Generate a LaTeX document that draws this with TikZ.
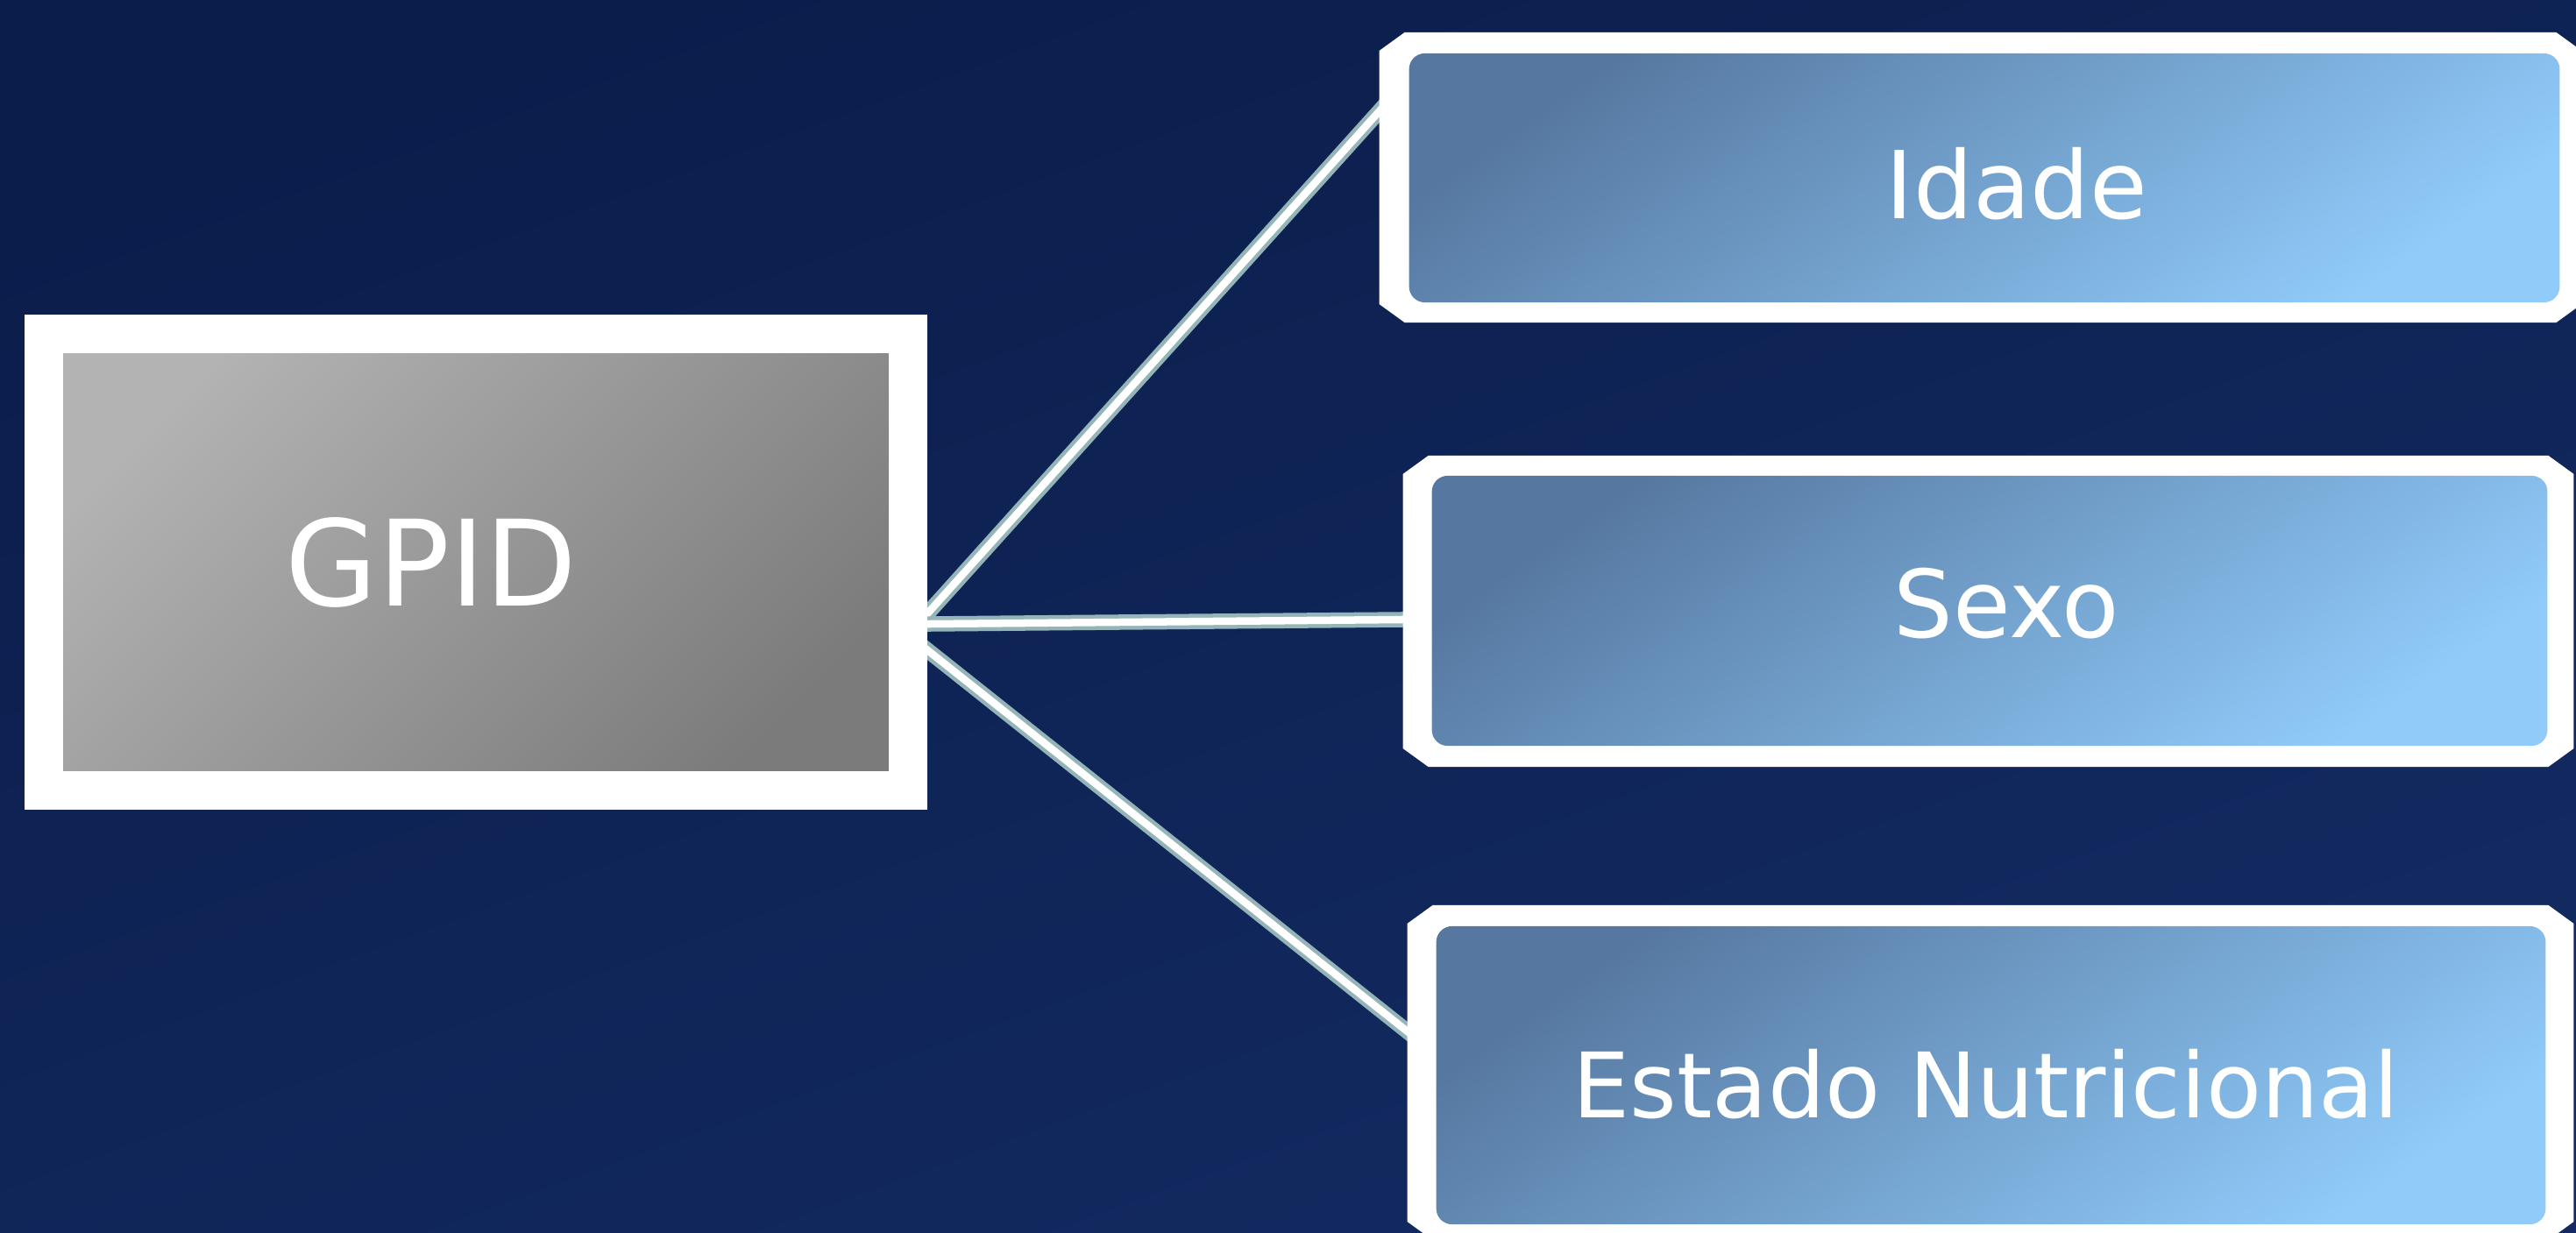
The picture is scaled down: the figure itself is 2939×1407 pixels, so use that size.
\documentclass[tikz,border=0pt]{standalone}
\usepackage{fontspec}
\setmainfont{DejaVu Sans}
\pgfdeclarelayer{bg}
\pgfdeclarelayer{links}
\pgfsetlayers{bg,links,main}
\definecolor{bgtop}{HTML}{0B1D4B}
\definecolor{bgbot}{HTML}{132B62}
\definecolor{graylt}{HTML}{B3B3B3}
\definecolor{graydk}{HTML}{7B7B7B}
\definecolor{bluedk}{HTML}{5678A0}
\definecolor{bluelt}{HTML}{90CBFA}
\definecolor{linkedge}{HTML}{94B4B7}
\newcommand\whiteframe[1]{%
  \fill[white] ([xshift=0.29cm]#1.north west) -- ([xshift=-0.29cm]#1.north east)
    -- ([yshift=-0.21cm]#1.north east) -- ([yshift=0.21cm]#1.south east)
    -- ([xshift=-0.29cm]#1.south east) -- ([xshift=0.29cm]#1.south west)
    -- ([yshift=0.21cm]#1.south west) -- ([yshift=-0.21cm]#1.north west) -- cycle;}
\begin{document}
\begin{tikzpicture}[x=0.01cm, y=-0.01cm,
  anchorbox/.style={rectangle, inner sep=0pt, outer sep=0pt},
  gpidbox/.style={rectangle, inner sep=0pt, outer sep=0pt, draw=white, line width=0.44cm,
    top color=graylt, bottom color=graydk, shading angle=45,
    minimum width=9.86cm, minimum height=5.21cm},
  bluefill/.style={top color=bluedk, bottom color=bluelt, shading angle=35, rounded corners=0.18cm},
  txt/.style={text=white, inner sep=0pt, anchor=base},
  link/.style={draw=linkedge, line width=0.045cm, double=white, double distance=0.085cm}
]
\useasboundingbox (0,0) rectangle (2939,1407);
\clip (0,0) rectangle (2939,1407);
\begin{pgfonlayer}{bg}
  \shade[top color=bgtop, bottom color=bgbot, shading angle=20] (0,0) rectangle (2939,1407);
\end{pgfonlayer}

% central box
\node[gpidbox] (gpid) at (543,641.5) {};
\node[txt, font=\fontsize{38.7}{46}\selectfont] (gpidtxt) at (492,692) {GPID};

% Idade
\node[anchorbox, minimum width=13.71cm, minimum height=3.31cm] (idade) at (2259.5,202.5) {};
\whiteframe{idade}
\shade[bluefill] ([shift={(0.34cm,-0.24cm)}]idade.north west) rectangle ([shift={(-0.25cm,0.23cm)}]idade.south east);
\node[txt, font=\fontsize{30.4}{36}\selectfont] (idadetxt) at (2301,250) {Idade};

% Sexo
\node[anchorbox, minimum width=13.35cm, minimum height=3.55cm] (sexo) at (2268.5,697.5) {};
\whiteframe{sexo}
\shade[bluefill] ([shift={(0.33cm,-0.23cm)}]sexo.north west) rectangle ([shift={(-0.30cm,0.24cm)}]sexo.south east);
\node[txt, font=\fontsize{30.4}{36}\selectfont] (sexotxt) at (2289,728) {Sexo};

% Estado Nutricional
\node[anchorbox, minimum width=13.30cm, minimum height=3.82cm] (estado) at (2271,1224) {};
\whiteframe{estado}
\shade[bluefill] ([shift={(0.33cm,-0.24cm)}]estado.north west) rectangle ([shift={(-0.32cm,0.18cm)}]estado.south east);
\node[txt, font=\fontsize{29.3}{35}\selectfont] (estadotxt) at (2266,1275) {Estado Nutricional};

% connectors
\begin{pgfonlayer}{links}
  \draw[link] ([yshift=-0.829cm]gpid.east) -- ([shift={(0.2cm,0.977cm)}]idade.west);
  \draw[link] ([yshift=-0.707cm]gpid.east) -- ([shift={(0.2cm,-0.093cm)}]sexo.west);
  \draw[link] ([yshift=-0.83cm]gpid.east) -- ([shift={(0.2cm,0.311cm)}]estado.west);
\end{pgfonlayer}
\end{tikzpicture}
\end{document}
